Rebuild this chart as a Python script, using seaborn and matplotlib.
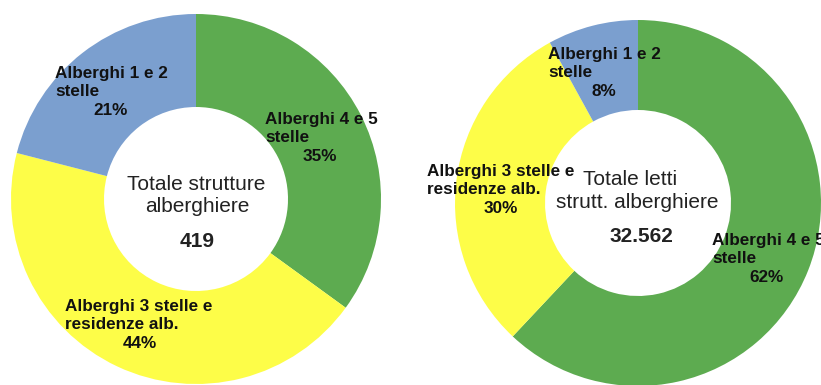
import matplotlib
matplotlib.use("Agg")
import matplotlib.pyplot as plt
import seaborn as sns

# Categories (clockwise from 12 o'clock) and shares
categories = ["Alberghi 4 e 5\nstelle",
              "Alberghi 3 stelle e\nresidenze alb.",
              "Alberghi 1 e 2\nstelle"]
strutture_pct = [35, 44, 21]
letti_pct = [62, 30, 8]
totale_strutture = "419"
totale_letti = "32.562"
titolo_strutture = ["Totale strutture", "alberghiere"]
titolo_letti = ["Totale letti", "strutt. alberghiere"]

palette = ["#5dab50", "#fdfd48", "#7b9fcf"]

sns.set_theme(style="white")
plt.rcParams["font.family"] = ["Liberation Sans", "DejaVu Sans"]

W, H = 821, 385
fig = plt.figure(figsize=(W / 100, H / 100), dpi=100)
ax = fig.add_axes([0, 0, 1, 1])


def Y(y):
    """Convert a top-down pixel row into axis units."""
    return H - y


LABEL_SIZE = 12.3
TITLE_SIZE = 15
STEP = 18.3
LABEL_COLOR = "#111111"
TITLE_COLOR = "#222222"

charts = [
    dict(values=strutture_pct, center=(196, 199), radius=185, width=93,
         title=titolo_strutture, total=totale_strutture,
         title_pos=[(196, 190), (197, 212)], total_pos=(197, 247),
         # (left x of category text, first baseline, percent centre x)
         labels=[(265, 124, 320), (65, 311, 140), (55, 78, 111)]),
    dict(values=letti_pct, center=(638, 203), radius=183, width=90,
         title=titolo_letti, total=totale_letti,
         title_pos=[(630, 185), (637, 208)], total_pos=(641, 242),
         labels=[(712, 245, 766), (427, 176, 501), (548, 59, 604)]),
]

for ch in charts:
    cx, cy = ch["center"]
    ax.pie(ch["values"], colors=palette, startangle=90, counterclock=False,
           radius=ch["radius"], center=(cx, Y(cy)),
           wedgeprops=dict(width=ch["width"], linewidth=0, edgecolor="none"))

    for cat, val, (lx, base, px) in zip(categories, ch["values"], ch["labels"]):
        lines = cat.split("\n")
        for k, line in enumerate(lines):
            ax.text(lx, Y(base + k * STEP), line, ha="left", va="baseline",
                    fontsize=LABEL_SIZE, fontweight="bold", color=LABEL_COLOR)
        ax.text(px, Y(base + len(lines) * STEP), f"{val}%", ha="center",
                va="baseline", fontsize=LABEL_SIZE, fontweight="bold",
                color=LABEL_COLOR)

    for line, (tx, ty) in zip(ch["title"], ch["title_pos"]):
        ax.text(tx, Y(ty), line, ha="center", va="baseline",
                fontsize=TITLE_SIZE, color=TITLE_COLOR)
    tx, ty = ch["total_pos"]
    ax.text(tx, Y(ty), ch["total"], ha="center", va="baseline",
            fontsize=TITLE_SIZE, fontweight="bold", color=TITLE_COLOR)

ax.set_xlim(0, W)
ax.set_ylim(0, H)
ax.set_aspect("equal")
ax.axis("off")

fig.savefig("out.png", dpi=100, facecolor="white")
